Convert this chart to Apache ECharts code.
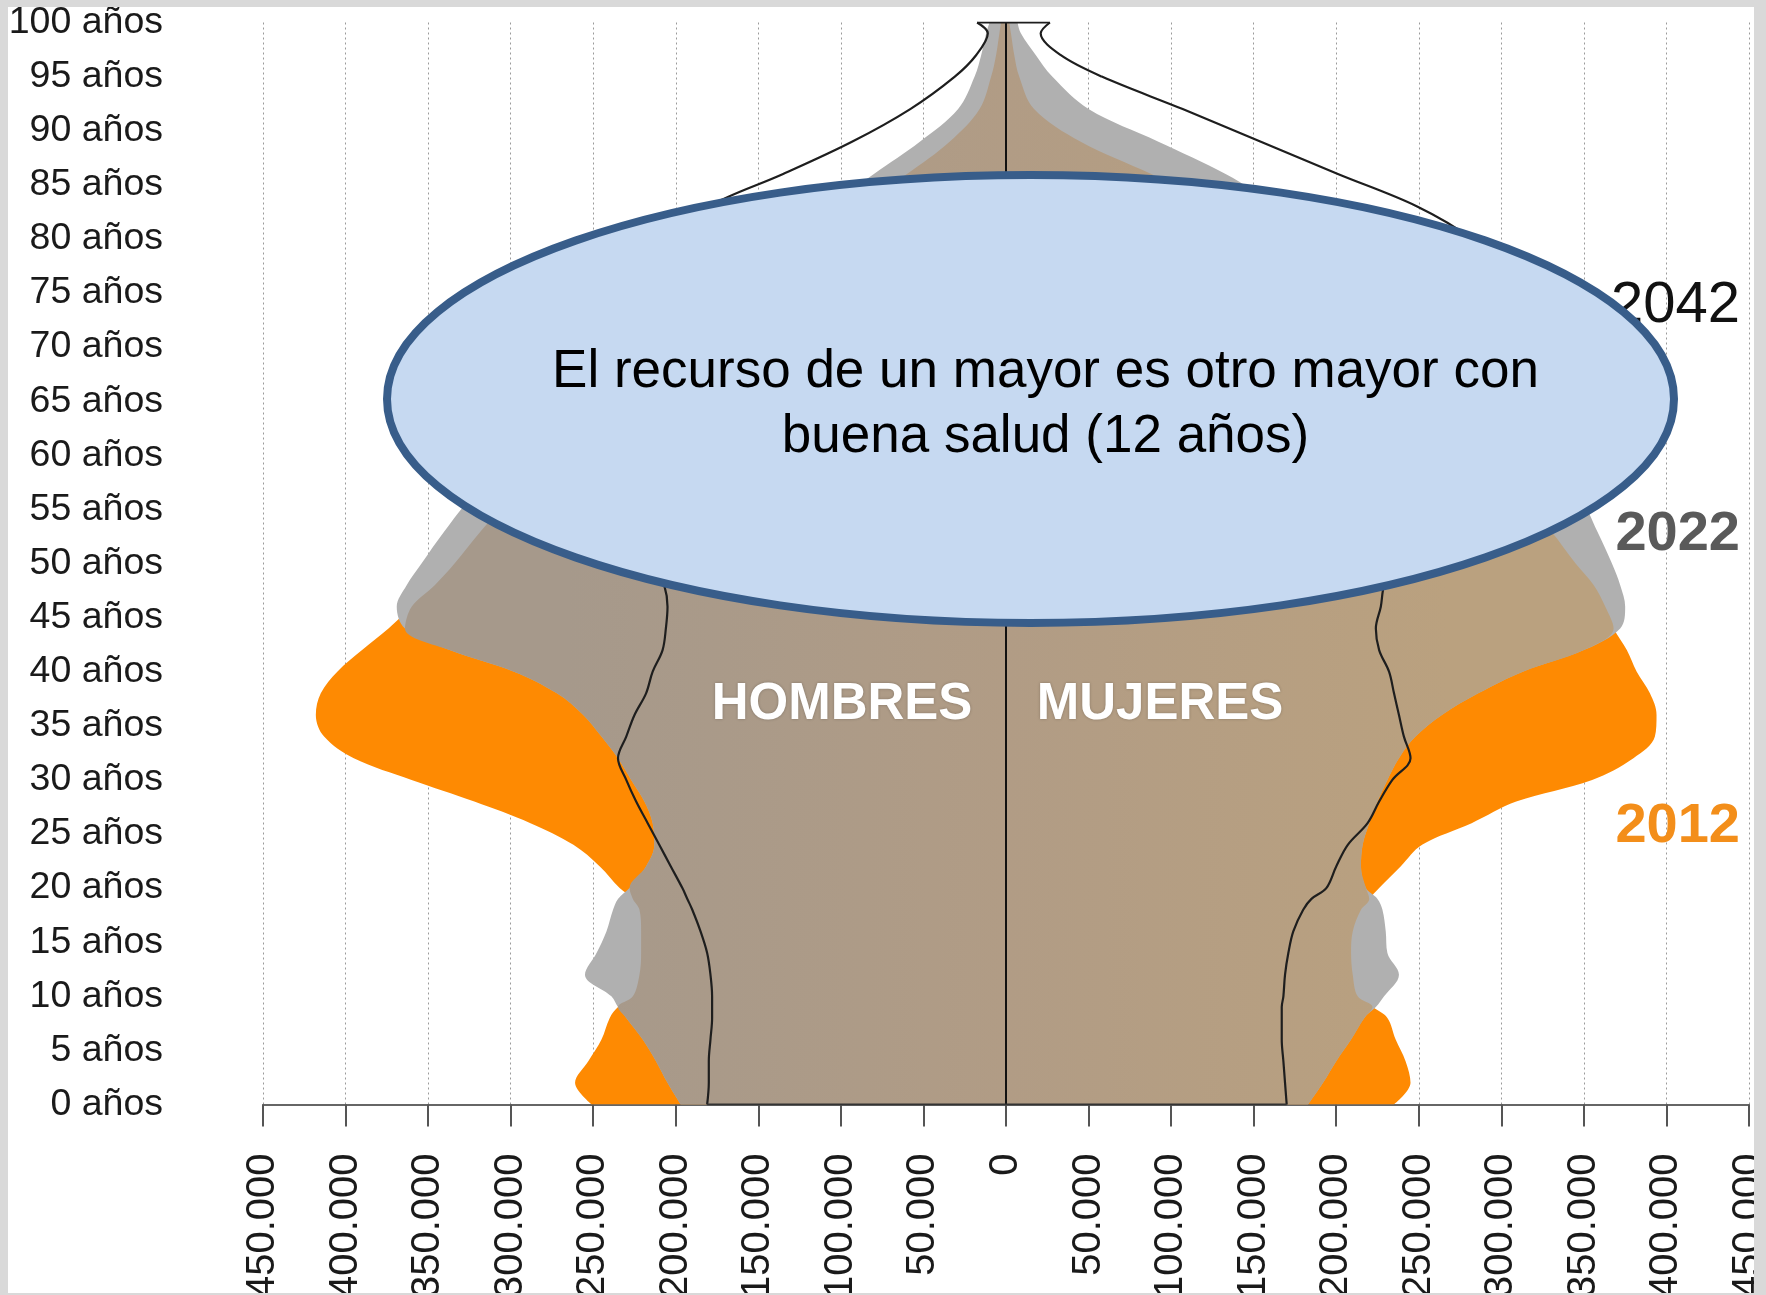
<!DOCTYPE html>
<html>
<head>
<meta charset="utf-8">
<script src="https://cdn.jsdelivr.net/npm/echarts@6/dist/echarts.min.js"></script>
<style>
  html, body { margin: 0; padding: 0; width: 1766px; height: 1295px; background: #D9D9D9; overflow: hidden; }
  #chart { position: absolute; left: 8px; top: 7px; width: 1746px; height: 1286px; background: #FFFFFF; }
</style>
</head>
<body>
<div id="chart"></div>
<script>
// Edades (años) en las que se han leído los perfiles de la pirámide
const AGES = [0,2,4,6,8,9,10,12,14,16,18,19,20,22,24,26,28,30,32,34,36,38,40,42,44,46,48,50,53,56,60,65,70,75,80,83,86,89,92,95,97,99,100];
// Población en miles
const UNIT = 1000;
const MEN_2012   = [251,261,253,245,240,235,226,222,221,221,222,226,234,246,262,288,322,360,395,413,418,415,405,390,374,360,346,334,318,300,268,238,195,160,122,90,60,34,16,9,6,4,3];
const MEN_2022   = [197,205,212,220,230,235,239,255,248,242,238,235,228,218,213,214,219,227,235,245,256,272,298,337,364,369,363,354,340,324,292,262,225,185,138,108,80,52,29,19,15,12,10];
const MEN_OVERLAP= [197,205,212,220,230,235,226,222,221,221,222,226,228,218,213,214,219,227,235,245,256,272,298,337,364,360,346,334,318,300,268,238,195,160,122,90,60,34,16,9,6,4,3];
const MEN_2042   = [181,180,180,179,178,178,178,179,181,185,190,193,196,203,210,217,224,230,235,230,225,218,214,208,206,205,207,213,225,242,270,300,290,255,205,180,135,93,58,31,18,11,17.5];
const WOMEN_2012   = [235,245,242,236,231,222,213,210,209,210,215,220,226,239,252,282,309,355,380,393,394,390,382,376,368,363,356,345,330,312,280,258,222,200,170,130,88,45,17,8,5,3,2];
const WOMEN_2022   = [183,192,200,209,217,224,229,238,231,230,228,225,218,215,216,220,225,231,238,248,264,286,313,350,372,375,372,367,358,348,325,290,260,225,195,165,133,92,50,28,18,9,7];
const WOMEN_OVERLAP= [183,192,200,209,217,222,213,210,209,210,215,220,218,215,216,220,225,231,238,248,264,286,313,350,368,363,356,345,330,312,280,258,222,200,170,130,88,45,17,8,5,3,2];
const WOMEN_2042   = [170,169,168,167,167,167,168,169,171,174,180,185,194,200,207,219,226,234,245,241,238,235,232,226,224,227,229,235,248,265,300,340,345,318,282,249,201,154,107,58,33,21,26.6];

// Categorías del eje vertical (0..100 años) y rango del eje horizontal
const AGE_CATEGORIES = Array.from({length: 101}, (_, i) => String(i));
const X_MIN = -450000, X_MAX = 450000, X_STEP = 50000;

const FONT = '"Liberation Sans", Arial, Helvetica, sans-serif';
const ORANGE = '#FE8A02';
const GREY = '#B0B0B0';
const BROWN = { type: 'linear', x: 560, y: 0, x2: 1440, y2: 0, global: true,
  colorStops: [{offset: 0, color: '#A6998B'}, {offset: 0.5, color: '#B19C85'}, {offset: 1, color: '#BAA17F'}] };

function side(values, sign) { return AGES.map((a, i) => [sign * values[i] * UNIT, a]); }
function area(name, values, sign, color, z) {
  return { name, type: 'line', data: side(values, sign), smooth: 0.35, symbol: 'none', silent: true, z,
    lineStyle: { width: 0, opacity: 0 }, areaStyle: { color, opacity: 1 } };
}
function outline(name, values, sign) {
  return { name, type: 'line', data: side(values, sign), smooth: 0.35, symbol: 'none', silent: true, z: 5,
    lineStyle: { color: '#1E1E1E', width: 2.2 } };
}
function fmtX(v) { const a = Math.abs(v); return a === 0 ? '0' : String(a).replace(/\B(?=(\d{3})+(?!\d))/g, '.'); }

const last = AGES.length - 1;
const chart = echarts.init(document.getElementById('chart'), null, { renderer: 'canvas' });
chart.setOption({
  animation: false,
  backgroundColor: '#FFFFFF',
  grid: { left: 255, right: 5, top: 15.5, bottom: 188.5, containLabel: false, outerBoundsMode: 'none' },
  xAxis: {
    type: 'value', min: X_MIN, max: X_MAX, interval: X_STEP,
    axisLine: { show: true, onZero: false, lineStyle: { color: '#666666', width: 2 } },
    axisTick: { show: true, length: 22, lineStyle: { color: '#555555', width: 2 } },
    axisLabel: { rotate: 90, margin: 49, fontSize: 40, fontFamily: FONT, color: '#1A1A1A', formatter: fmtX },
    splitLine: { show: true, lineStyle: { color: '#9A9A9A', width: 1, type: [2, 3] } }
  },
  yAxis: {
    type: 'category', data: AGE_CATEGORIES, boundaryGap: false,
    axisLine: { show: false }, axisTick: { show: false }, splitLine: { show: false },
    axisLabel: { interval: 4, margin: 100, fontSize: 37.5, fontFamily: FONT, color: '#1A1A1A', padding: [7, 0, 0, 0],
      formatter: v => v + ' años' }
  },
  series: [
    area('2012 hombres', MEN_2012, -1, ORANGE, 2),
    area('2012 mujeres', WOMEN_2012, 1, ORANGE, 2),
    area('2022 hombres', MEN_2022, -1, GREY, 3),
    area('2022 mujeres', WOMEN_2022, 1, GREY, 3),
    area('2012-2022 hombres', MEN_OVERLAP, -1, BROWN, 4),
    area('2012-2022 mujeres', WOMEN_OVERLAP, 1, BROWN, 4),
    Object.assign(outline('2042 hombres', MEN_2042, -1), {
      markLine: { silent: true, symbol: ['none', 'none'], animation: false, label: { show: false },
        lineStyle: { color: '#111111', width: 2, type: 'solid' }, data: [{ xAxis: 0 }] }
    }),
    outline('2042 mujeres', WOMEN_2042, 1),
    { name: '2042 cima', type: 'line', symbol: 'none', silent: true, z: 5, lineStyle: { color: '#1E1E1E', width: 2.2 },
      data: [[-MEN_2042[last] * UNIT, AGES[last]], [WOMEN_2042[last] * UNIT, AGES[last]]] },
    { name: '2042 base', type: 'line', symbol: 'none', silent: true, z: 5, lineStyle: { color: '#333333', width: 2.2 },
      data: [[-MEN_2042[0] * UNIT, AGES[0]], [WOMEN_2042[0] * UNIT, AGES[0]]] }
  ],
  graphic: [
    { type: 'text', x: 834, y: 698, z: 50, silent: true,
      style: { text: 'HOMBRES', fontSize: 51, fontWeight: 'bold', fontFamily: FONT, fill: '#FFFFFF', align: 'center', verticalAlign: 'middle',
        textShadowColor: 'rgba(0,0,0,0.25)', textShadowBlur: 3 } },
    { type: 'text', x: 1152, y: 698, z: 50, silent: true,
      style: { text: 'MUJERES', fontSize: 51, fontWeight: 'bold', fontFamily: FONT, fill: '#FFFFFF', align: 'center', verticalAlign: 'middle',
        textShadowColor: 'rgba(0,0,0,0.25)', textShadowBlur: 3 } },
    { type: 'text', x: 1732, y: 299, z: 50, silent: true,
      style: { text: '2042', fontSize: 58, fontFamily: FONT, fill: '#111111', align: 'right', verticalAlign: 'middle' } },
    { type: 'text', x: 1732, y: 528, z: 50, silent: true,
      style: { text: '2022', fontSize: 56, fontWeight: 'bold', fontFamily: FONT, fill: '#5A5A5A', align: 'right', verticalAlign: 'middle' } },
    { type: 'text', x: 1732, y: 820, z: 50, silent: true,
      style: { text: '2012', fontSize: 56, fontWeight: 'bold', fontFamily: FONT, fill: '#F38E1A', align: 'right', verticalAlign: 'middle' } },
    { type: 'ellipse', z: 100, silent: true,
      shape: { cx: 1022.5, cy: 392, rx: 643.5, ry: 224 },
      style: { fill: '#C6D9F1', stroke: '#385D8A', lineWidth: 8 } },
    { type: 'text', x: 1037.5, y: 365, z: 101, silent: true,
      style: { text: 'El recurso de un mayor es otro mayor con', fontSize: 53, fontFamily: FONT, fill: '#000000', align: 'center', verticalAlign: 'middle' } },
    { type: 'text', x: 1037.5, y: 430, z: 101, silent: true,
      style: { text: 'buena salud (12 años)', fontSize: 53, fontFamily: FONT, fill: '#000000', align: 'center', verticalAlign: 'middle' } }
  ]
});
</script>
</body>
</html>
